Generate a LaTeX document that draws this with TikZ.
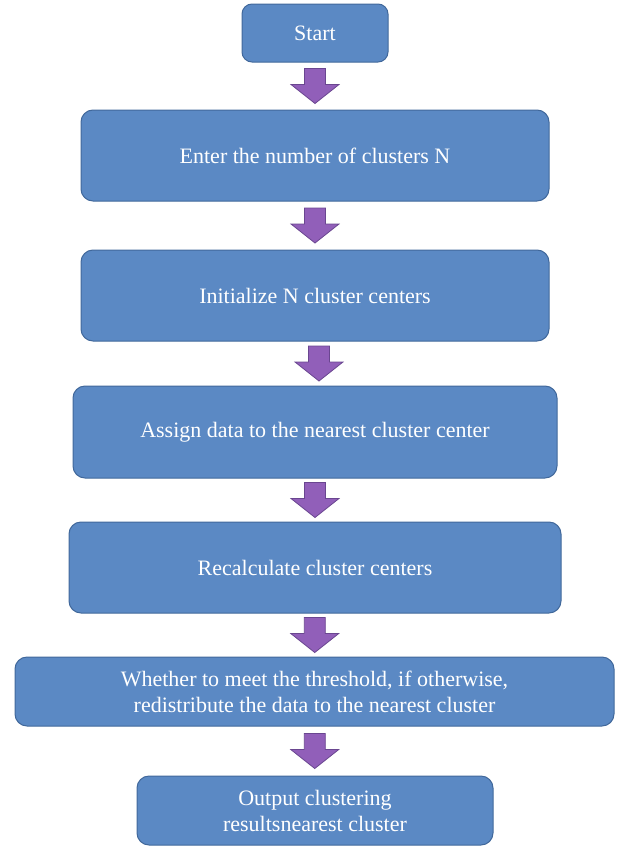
\documentclass[tikz,border=0pt]{standalone}
\usepackage{fontspec}
\setmainfont{Liberation Serif}
\usetikzlibrary{calc}
\definecolor{boxfill}{HTML}{5B89C4}
\definecolor{boxline}{HTML}{41689B}
\definecolor{arrfill}{HTML}{915FB9}
\definecolor{arrline}{HTML}{6A4690}
\tikzset{
  flowbox/.style={draw=boxline, line width=1pt, fill=boxfill, rounded corners=12pt,
    text=white, font=\fontsize{22}{26}\selectfont, align=center, inner sep=0pt},
  blockarr/.style={draw=arrline, line width=0.8pt, fill=arrfill, line join=miter}
}
\newcommand\flowarrow[3]{%
  \path ($(#1.south)!0.5!(#2.north)$) coordinate (mid#1);
  \draw[blockarr] ($(mid#1)+(#3,-17.5)$) ++(-10.5,0) -- ++(21,0) -- ++(0,16) -- ++(13.5,0)
    -- ++(-24,19) -- ++(-24,-19) -- ++(13.5,0) -- cycle;
}
\begin{document}
\begin{tikzpicture}[x=1pt,y=-1pt]
\useasboundingbox (0,0) rectangle (616,846);
\node[flowbox, minimum width=146pt, minimum height=58pt, rounded corners=10pt] (start) at (315,33) {Start};
\node[flowbox, minimum width=468pt, minimum height=91pt] (n2) at (315,155.5) {Enter the number of clusters N};
\node[flowbox, minimum width=468pt, minimum height=91pt] (n3) at (315,295.5) {Initialize N cluster centers};
\node[flowbox, minimum width=484pt, minimum height=92pt] (n4) at (315,432) {Assign data to the nearest cluster center};
\node[flowbox, minimum width=492pt, minimum height=91pt] (n5) at (315,567.5) {Recalculate cluster centers};
\node[flowbox, minimum width=599pt, minimum height=69pt] (n6) at (314.5,691.5) {\raisebox{0pt}[17pt][0pt]{}Whether to meet the threshold, if otherwise,\\redistribute the data to the nearest cluster};
\node[flowbox, minimum width=356pt, minimum height=69pt] (n7) at (315,810.5) {Output clustering\\resultsnearest cluster};
\flowarrow{start}{n2}{0}
\flowarrow{n2}{n3}{0}
\flowarrow{n3}{n4}{4}
\flowarrow{n4}{n5}{0}
\flowarrow{n5}{n6}{0}
\flowarrow{n6}{n7}{0}
\end{tikzpicture}
\end{document}
